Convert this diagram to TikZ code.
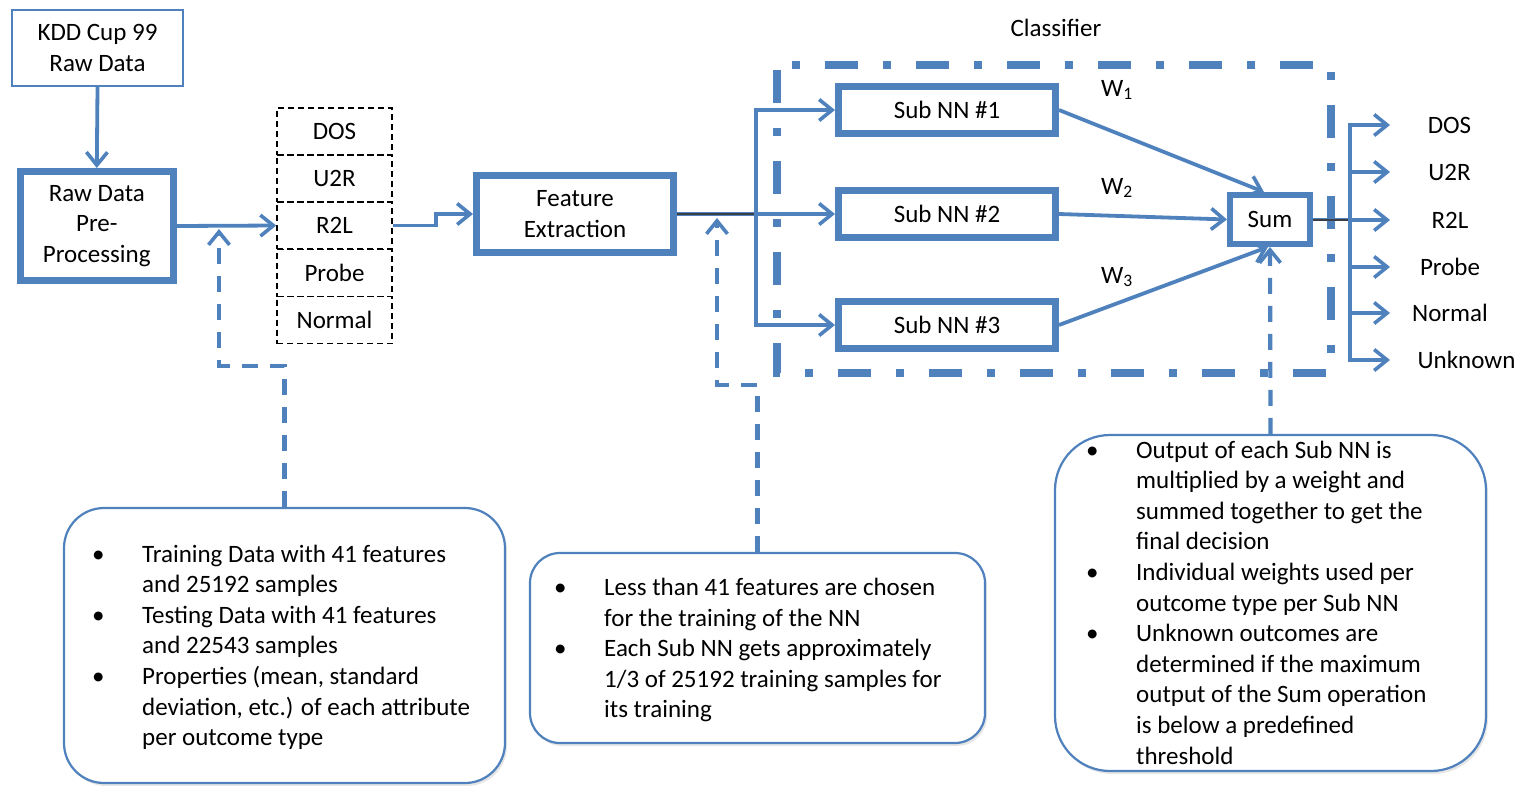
\documentclass[tikz,border=0pt]{standalone}
\usepackage{fontspec}
\setmainfont{Carlito}
\usetikzlibrary{arrows.meta,shadows}
\definecolor{pblue}{HTML}{4F81BD}
\definecolor{dline}{HTML}{3A3F48}
\begin{document}
\begin{tikzpicture}[x=1pt,y=-1pt,
  txt/.style={font=\fontsize{25}{30.6}\selectfont, text=black},
  thickbox/.style={draw=pblue, line width=7pt, fill=white, align=center, txt, inner sep=0pt},
  thinbox/.style={draw=pblue, line width=2.2pt, fill=white, align=center, txt, inner sep=0pt},
  listrow/.style={draw=black, line width=1.5pt, dash pattern=on 6pt off 4pt, minimum width=115pt, minimum height=47pt, txt, inner sep=0pt},
  flow/.style={draw=pblue, line width=3.8pt},
  tipb/.style={-{Straight Barb[length=13pt,width=21pt,line width=3.6pt]}},
  dashflow/.style={draw=pblue, line width=4.2pt, dash pattern=on 16pt off 12pt},
  callout/.style={draw=pblue, line width=2.2pt, fill=white, inner sep=0pt, drop shadow={opacity=0.2,shadow xshift=2pt,shadow yshift=-3pt}},
  frame/.style={draw=pblue, line width=8pt, line cap=butt, dash pattern=on 33pt off 25pt on 8pt off 25pt, dash phase=86pt},
]
\useasboundingbox (0,0) rectangle (1522,785);

% main nodes
\node[thinbox, minimum width=171pt, minimum height=76pt] (kdd) at (97.5,48) {KDD Cup 99\\Raw Data};
\node[thickbox, minimum width=153.5pt, minimum height=109pt] (pre) at (96.8,226) {Raw Data\\Pre-\\Processing};

\node[listrow] (l1) at (334.5,131.5) {DOS};
\node[listrow] (l2) at (334.5,178.5) {U2R};
\node[listrow] (l3) at (334.5,225.5) {R2L};
\node[listrow] (l4) at (334.5,273) {Probe};
\node[listrow] (l5) at (334.5,320) {Normal};

\node[thickbox, minimum width=197pt, minimum height=77pt] (fe) at (575,214) {Feature\\Extraction};

% classifier frame
\draw[frame] (777,65) -- (777,373) -- (1331,373) -- (1331,65) -- cycle;
\node[txt] (cls) at (1056,28) {Classifier};

\node[thickbox, minimum width=217pt, minimum height=47pt] (s1) at (947,110) {Sub NN \#1};
\node[thickbox, minimum width=217pt, minimum height=47pt] (s2) at (947,214) {Sub NN \#2};
\node[thickbox, minimum width=217pt, minimum height=47pt] (s3) at (947,325) {Sub NN \#3};
\node[draw=pblue, line width=6pt, fill=white, txt, inner sep=0pt, minimum width=80pt, minimum height=49pt] (sum) at (1270,219.5) {Sum};

\node[txt] (w1) at (1117,90) {W\textsubscript{1}};
\node[txt] (w2) at (1117,188) {W\textsubscript{2}};
\node[txt] (w3) at (1117,277) {W\textsubscript{3}};

% outputs
\node[txt] (o1) at (1449.5,125) {DOS};
\node[txt] (o2) at (1449.5,172) {U2R};
\node[txt] (o3) at (1450,220) {R2L};
\node[txt] (o4) at (1450,267) {Probe};
\node[txt] (o5) at (1450,313) {Normal};
\node[txt] (o6) at (1466.5,360) {Unknown};

\coordinate (j) at (756,214);
\coordinate (oj) at (1350,219.5);
\coordinate (t1) at (1390,125);
\coordinate (t2) at (1390,172);
\coordinate (t3) at (1390,220);
\coordinate (t4) at (1390,267);
\coordinate (t5) at (1390,313);
\coordinate (t6) at (1390,360);

% connectors
\draw[flow, tipb] (kdd.south) -- (pre.north);
\draw[flow, tipb] (pre.east) -- (l3.west);
\draw[flow, tipb] (l3.east) -- ++(43,0) |- (fe.west);
\draw[flow, tipb] (fe.east) -- (s2.west);
\draw[dline, line width=2pt] (fe.east) -- (j);
\draw[flow, tipb] (j) |- (s1.west);
\draw[flow, tipb] (j) |- (s3.west);

\draw[flow, tipb] (s1.east) -- ([xshift=-6pt]sum.north);
\draw[flow, tipb] (s2.east) -- (sum.west);
\draw[flow, tipb] (s3.east) -- ([xshift=-2pt]sum.south);

\draw[flow] (sum.east) -- (oj);
\draw[dline, line width=2pt] (sum.east) -- (oj);
\foreach \t in {t1,t2,t3,t4,t5,t6} \draw[flow, tipb] (oj) |- (\t);

% callouts
\node[callout, rounded corners=40pt, minimum width=441pt, minimum height=275pt] (cb1) at (284.5,645.5) {};
\node[callout, rounded corners=30pt, minimum width=455pt, minimum height=190pt] (cb2) at (757.5,648) {};
\node[callout, rounded corners=55pt, minimum width=431pt, minimum height=336pt] (cb3) at (1270.5,603) {};

\coordinate (a1) at (219,229);
\coordinate (a2) at (717,218);
\draw[dashflow, tipb] (cb1.north) -- ++(0,-141) -| (a1);
\draw[dashflow, tipb] (cb2.north) -- ++(0,-167) -| (a2);
\draw[dashflow, tipb] (cb3.north) -- (sum.south);

\node[txt, anchor=base west, align=left, inner sep=0pt] (tx1) at (92,745.6)
 {\makebox[50pt][l]{\textbullet}Training Data with 41 features\\
  \hspace*{50pt}and 25192 samples\\
  \makebox[50pt][l]{\textbullet}Testing Data with 41 features\\
  \hspace*{50pt}and 22543 samples\\
  \makebox[50pt][l]{\textbullet}Properties (mean, standard\\
  \hspace*{50pt}deviation, etc.) of each attribute\\
  \hspace*{50pt}per outcome type};
\node[txt, anchor=base west, align=left, inner sep=0pt] (tx2) at (554,717.8)
 {\makebox[50pt][l]{\textbullet}Less than 41 features are chosen\\
  \hspace*{50pt}for the training of the NN\\
  \makebox[50pt][l]{\textbullet}Each Sub NN gets approximately\\
  \hspace*{50pt}1/3 of 25192 training samples for\\
  \hspace*{50pt}its training};
\node[txt, anchor=base west, align=left, inner sep=0pt] (tx3) at (1086,764)
 {\makebox[50pt][l]{\textbullet}Output of each Sub NN is\\
  \hspace*{50pt}multiplied by a weight and\\
  \hspace*{50pt}summed together to get the\\
  \hspace*{50pt}final decision\\
  \makebox[50pt][l]{\textbullet}Individual weights used per\\
  \hspace*{50pt}outcome type per Sub NN\\
  \makebox[50pt][l]{\textbullet}Unknown outcomes are\\
  \hspace*{50pt}determined if the maximum\\
  \hspace*{50pt}output of the Sum operation\\
  \hspace*{50pt}is below a predefined\\
  \hspace*{50pt}threshold};
\end{tikzpicture}
\end{document}
